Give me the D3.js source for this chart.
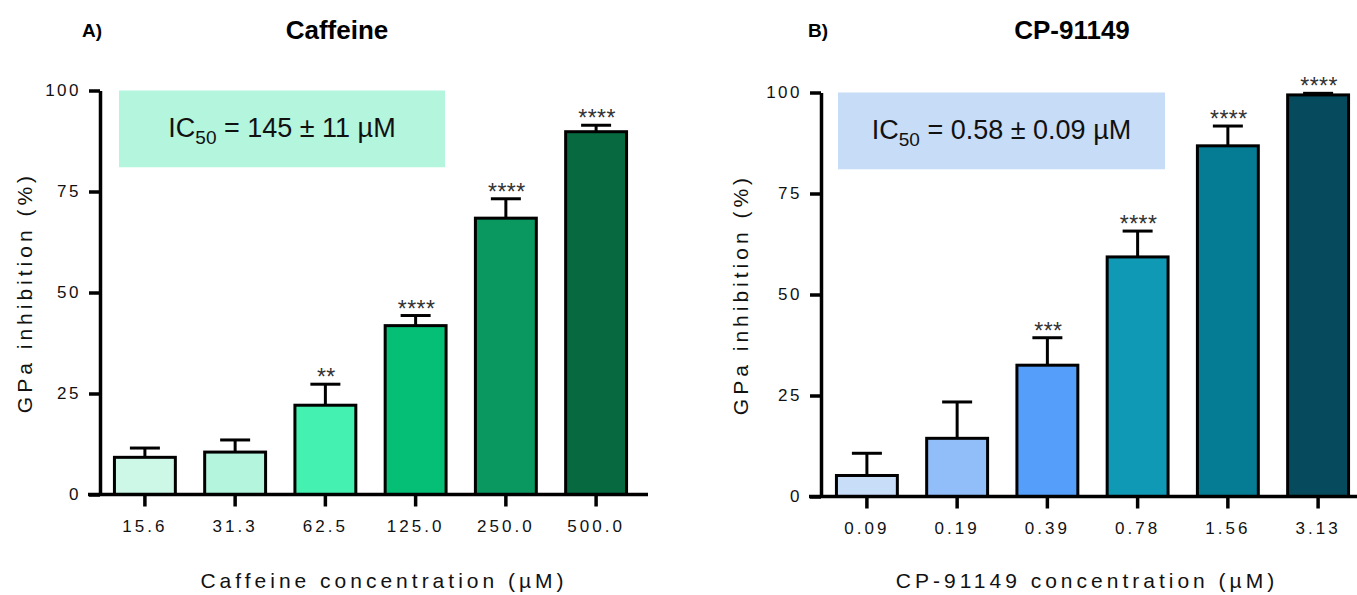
<!DOCTYPE html>
<html>
<head>
<meta charset="utf-8">
<script src="https://cdn.jsdelivr.net/npm/d3@7"></script>
<style>
html,body{margin:0;padding:0;background:#fff;}
svg{display:block;}
</style>
</head>
<body>
<svg id="chart" width="1357" height="595"></svg>
<script>
// ---- data ----
const caffeineConc = ["15.6","31.3","62.5","125.0","250.0","500.0"];
const caffeineMean = [9.2, 10.5, 22.1, 41.8, 68.4, 89.8];
const caffeineSEM  = [2.3, 3.0, 5.2, 2.5, 4.8, 1.6];
const caffeineSig  = ["", "", "**", "****", "****", "****"];
const caffeineColors = ["#cdf7e7","#b3f5dd","#44f1b1","#06bf77","#0b9760","#066940"];

const cpConc = ["0.09","0.19","0.39","0.78","1.56","3.13"];
const cpMean = [5.2, 14.4, 32.5, 59.3, 86.8, 99.4];
const cpSEM  = [5.5, 9.0, 6.8, 6.4, 4.9, 0.4];
const cpSig  = ["", "", "***", "****", "****", "****"];
const cpColors = ["#c8ddf7","#91bef9","#559ffb","#0f99b4","#067c94","#054b5d"];

const yTicks = [0, 25, 50, 75, 100];

const svg = d3.select("#chart");
const SANS = "'Liberation Sans', Arial, sans-serif";

function panel(o) {
  const g = svg.append("g");
  const y = d3.scaleLinear().domain([0, 100]).range([o.y0, o.y100]);
  const x = d3.scaleBand().domain(o.cats).range([o.xr0, o.xr1]).paddingInner(0.325).paddingOuter(0.16);

  // IC50 box
  g.append("rect").attr("x", o.box[0]).attr("y", y(100)).attr("width", o.box[1] - o.box[0])
    .attr("height", y(81) - y(100)).attr("fill", o.boxFill);
  const t = g.append("text").attr("x", (o.box[0] + o.box[1]) / 2).attr("y", y(88.5))
    .attr("text-anchor", "middle").attr("font-family", SANS)
    .attr("font-size", 27).attr("fill", "#111");
  t.append("tspan").text("IC");
  t.append("tspan").attr("font-size", 19).attr("dy", 7).text("50");
  t.append("tspan").attr("dy", -7).text(" = " + o.ic50);

  // bars
  g.selectAll("rect.bar").data(o.cats).join("rect").attr("class", "bar")
    .attr("x", d => x(d)).attr("width", x.bandwidth())
    .attr("y", (d, i) => y(o.mean[i])).attr("height", (d, i) => y(0) - y(o.mean[i]))
    .attr("fill", (d, i) => o.colors[i]).attr("stroke", "#000").attr("stroke-width", 3);

  // error bars
  const cw = 30;
  o.cats.forEach((d, i) => {
    const cx = x(d) + x.bandwidth() / 2;
    const top = y(o.mean[i] + o.sem[i]);
    g.append("line").attr("x1", cx).attr("x2", cx).attr("y1", y(o.mean[i])).attr("y2", top)
      .attr("stroke", "#000").attr("stroke-width", 3);
    g.append("line").attr("x1", cx - cw / 2).attr("x2", cx + cw / 2).attr("y1", top).attr("y2", top)
      .attr("stroke", "#000").attr("stroke-width", 3);
    if (o.sig[i]) {
      g.append("text").attr("x", cx + 1).attr("y", top + 1).attr("text-anchor", "middle")
        .attr("font-family", SANS).attr("font-size", 23).attr("letter-spacing", "0.5px")
        .attr("fill", "#333").text(o.sig[i]);
    }
  });

  // y axis
  const ya = d3.axisLeft(y).tickValues(yTicks).tickSize(11).tickSizeOuter(0).tickPadding(8);
  const yg = g.append("g").attr("transform", `translate(${o.ax},0)`).call(ya);
  yg.select(".domain").attr("stroke-width", 3.5);
  yg.selectAll(".tick line").attr("stroke-width", 3.5);
  yg.selectAll(".tick text").attr("font-family", SANS).attr("font-size", 17)
    .attr("letter-spacing", "2.5px").attr("fill", "#111");

  // x axis
  const xa = d3.axisBottom(x).tickSize(12).tickSizeOuter(0).tickPadding(13);
  const xg = g.append("g").attr("transform", `translate(0,${y(0)})`).call(xa);
  xg.select(".domain").remove();
  xg.append("line").attr("x1", o.ax - 12).attr("x2", o.xEnd).attr("y1", 0).attr("y2", 0)
    .attr("stroke", "#000").attr("stroke-width", 3.5);
  xg.selectAll(".tick line").attr("stroke-width", 3.5);
  xg.selectAll(".tick text").attr("font-family", SANS).attr("font-size", 17)
    .attr("letter-spacing", "3px").attr("fill", "#111");

  // axis titles
  g.append("text").attr("x", o.xTitleX).attr("y", 588).attr("text-anchor", "middle")
    .attr("font-family", SANS).attr("font-size", 21).attr("letter-spacing", "4px")
    .attr("fill", "#111").text(o.xTitle);
  g.append("text").attr("transform", `translate(${o.yTitleX},${(o.y0 + o.y100) / 2}) rotate(-90)`)
    .attr("text-anchor", "middle").attr("font-family", SANS).attr("font-size", 21)
    .attr("letter-spacing", "4px").attr("fill", "#111").text("GPa inhibition (%)");

  // titles
  g.append("text").attr("x", o.labelX).attr("y", 37).attr("font-family", SANS)
    .attr("font-weight", "bold").attr("font-size", 19)
    .attr("fill", "#000").text(o.label);
  g.append("text").attr("x", o.titleX).attr("y", 39).attr("text-anchor", "middle")
    .attr("font-family", SANS).attr("font-weight", "bold")
    .attr("font-size", 26).attr("fill", "#000").text(o.title);
}

panel({
  cats: caffeineConc, mean: caffeineMean, sem: caffeineSEM, sig: caffeineSig, colors: caffeineColors,
  y0: 494.5, y100: 90.5, xr0: 100, xr1: 641, ax: 100, xEnd: 648,
  box: [119, 445], boxFill: "#b3f5dd", ic50: "145 ± 11 µM",
  xTitle: "Caffeine concentration (µM)", xTitleX: 384, yTitleX: 32,
  label: "A)", labelX: 82, title: "Caffeine", titleX: 337
});
panel({
  cats: cpConc, mean: cpMean, sem: cpSEM, sig: cpSig, colors: cpColors,
  y0: 496.5, y100: 92.5, xr0: 822, xr1: 1363, ax: 821, xEnd: 1357,
  box: [838, 1165], boxFill: "#c6dcf7", ic50: "0.58 ± 0.09 µM",
  xTitle: "CP-91149 concentration (µM)", xTitleX: 1087, yTitleX: 748,
  label: "B)", labelX: 808, title: "CP-91149", titleX: 1072
});
</script>
</body>
</html>
